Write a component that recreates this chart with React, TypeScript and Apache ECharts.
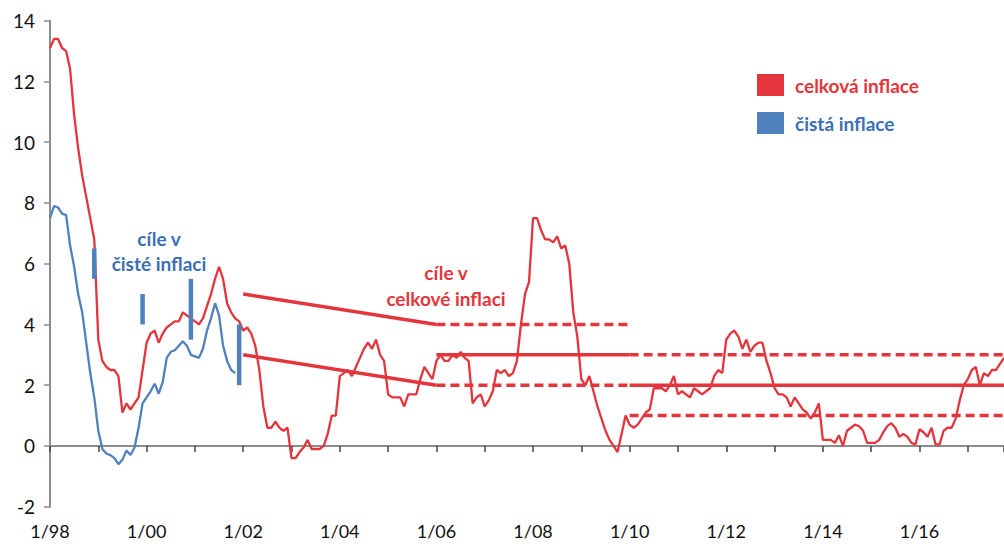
import React, { useEffect, useRef } from "react";
import * as echarts from "echarts";

// Monthly y/y inflation, 1/1998 onwards
const startYear = 1998;
const headline = [
  13.1, 13.4, 13.4, 13.1, 13.0, 12.4, 10.9, 9.8, 8.9, 8.2, 7.5, 6.8,
  3.5, 2.8, 2.6, 2.5, 2.5, 2.3, 1.1, 1.4, 1.2, 1.4, 1.6, 2.5,
  3.4, 3.7, 3.8, 3.4, 3.7, 3.9, 4.0, 4.1, 4.1, 4.4, 4.3, 4.2,
  4.1, 4.0, 4.2, 4.6, 5.0, 5.5, 5.9, 5.5, 4.7, 4.4, 4.2, 4.1,
  3.8, 3.9, 3.7, 3.3, 2.5, 1.3, 0.6, 0.6, 0.8, 0.6, 0.5, 0.6,
  -0.4, -0.4, -0.2, -0.05, 0.2, -0.1, -0.1, -0.1, 0.0, 0.4, 1.0, 1.0,
  2.3, 2.4, 2.5, 2.3, 2.6, 2.9, 3.2, 3.4, 3.2, 3.5, 3.0, 2.8,
  1.7, 1.6, 1.6, 1.6, 1.3, 1.7, 1.7, 1.7, 2.2, 2.6, 2.4, 2.2,
  2.8, 3.0, 2.8, 2.8, 3.0, 2.9, 3.1, 2.9, 2.8, 1.4, 1.6, 1.7,
  1.3, 1.5, 1.8, 2.5, 2.4, 2.5, 2.3, 2.4, 2.8, 4.0, 5.0, 5.4,
  7.5, 7.5, 7.1, 6.8, 6.8, 6.7, 6.9, 6.5, 6.6, 6.0, 4.4, 3.6,
  2.2, 2.0, 2.3, 1.8, 1.3, 0.9, 0.5, 0.2, 0.0, -0.2, 0.4, 1.0,
  0.7, 0.6, 0.7, 0.9, 1.1, 1.2, 1.9, 1.9, 1.9, 1.8, 2.0, 2.3,
  1.7, 1.8, 1.7, 1.6, 1.9, 1.8, 1.7, 1.8, 1.9, 2.3, 2.5, 2.4,
  3.5, 3.7, 3.8, 3.6, 3.2, 3.5, 3.1, 3.3, 3.4, 3.4, 2.8, 2.4,
  1.9, 1.7, 1.7, 1.6, 1.3, 1.6, 1.4, 1.2, 1.1, 0.9, 1.1, 1.4,
  0.2, 0.2, 0.2, 0.1, 0.35, 0.0, 0.5, 0.6, 0.7, 0.65, 0.5, 0.1,
  0.1, 0.1, 0.2, 0.45, 0.65, 0.75, 0.6, 0.3, 0.4, 0.3, 0.1, 0.05,
  0.55, 0.45, 0.3, 0.6, 0.05, 0.05, 0.5, 0.6, 0.6, 0.9, 1.5, 2.0,
  2.2, 2.5, 2.6, 2.0, 2.4, 2.3, 2.5, 2.5, 2.7, 2.9,
];
const netInflation = [
  7.5, 7.9, 7.85, 7.65, 7.6, 6.6, 5.9, 5.0, 4.4, 3.4, 2.4, 1.6,
  0.5, -0.1, -0.25, -0.3, -0.4, -0.6, -0.45, -0.15, -0.3, -0.05, 0.6, 1.4,
  1.6, 1.8, 2.05, 1.72, 2.1, 2.9, 3.1, 3.15, 3.3, 3.45, 3.3, 3.0,
  2.95, 2.9, 3.2, 3.8, 4.2, 4.7, 4.3, 3.3, 2.8, 2.5, 2.4,
];

// Net inflation targets (end of year)
const netTargetAt = [1998 + 11 / 12, 1999 + 11 / 12, 2000 + 11 / 12, 2001 + 11 / 12];
const netTargetLow = [5.5, 4, 3.5, 2];
const netTargetHigh = [6.5, 5, 5.5, 4];

// Headline targets: [x0, y0, x1, y1, dashed]
const xEnd = 2017.75;
const headlineTargets: [number, number, number, number, boolean][] = [
  [2002, 5, 2006, 4, false],
  [2002, 3, 2006, 2, false],
  [2006, 4, 2010, 4, true],
  [2006, 3, 2010, 3, false],
  [2006, 2, 2010, 2, true],
  [2010, 3, xEnd, 3, true],
  [2010, 2, xEnd, 2, false],
  [2010, 1, xEnd, 1, true],
];

const tickYears = [1998, 2000, 2002, 2004, 2006, 2008, 2010, 2012, 2014, 2016];
const tickLabels = ["1/98", "1/00", "1/02", "1/04", "1/06", "1/08", "1/10", "1/12", "1/14", "1/16"];

const RED = "#E3353B";
const BLUE = "#4F81BD";
const BLUE_TEXT = "#3A70B3";
const AXIS = "#8c8c8c";
const FONT = "Lato";

export default function App() {
  const ref = useRef<HTMLDivElement>(null);
  useEffect(() => {
    if (!ref.current) return;
    const chart = echarts.init(ref.current, null, { renderer: "svg" });
    const toXY = (arr: number[]) => arr.map((v, i) => [startYear + i / 12, v]);

    const series: any[] = [
      {
        name: "celková inflace",
        type: "line",
        data: toXY(headline),
        showSymbol: false,
        symbol: "none",
        color: RED,
        lineStyle: { color: RED, width: 2.3 },
        z: 3,
      },
      {
        name: "čistá inflace",
        type: "line",
        data: toXY(netInflation),
        showSymbol: false,
        symbol: "none",
        color: BLUE,
        lineStyle: { color: BLUE, width: 2.3 },
        z: 3,
      },
    ];
    headlineTargets.forEach((s, i) => {
      series.push({
        name: "target" + i,
        type: "line",
        data: [
          [s[0], s[1]],
          [s[2], s[3]],
        ],
        symbol: "none",
        color: RED,
        lineStyle: { color: RED, width: 3.5, type: s[4] ? [9, 5] : "solid" },
        z: 4,
      });
    });
    netTargetAt.forEach((x, i) => {
      series.push({
        name: "netTarget" + i,
        type: "line",
        data: [
          [x, netTargetLow[i]],
          [x, netTargetHigh[i]],
        ],
        symbol: "none",
        color: BLUE,
        lineStyle: { color: BLUE, width: 4.5, cap: "butt" },
        z: 5,
      });
    });

    const option: any = {
      animation: false,
      backgroundColor: "#ffffff",
      grid: { left: 50, right: 0, top: 20.7, bottom: 37.3, containLabel: false },
      legend: {
        orient: "vertical",
        left: 752,
        top: 69,
        itemWidth: 27,
        itemHeight: 22,
        itemGap: 16,
        icon: "rect",
        selectedMode: false,
        textStyle: { fontSize: 19, fontWeight: "bold", fontFamily: FONT, padding: [0, 0, 0, 6] },
        data: [
          { name: "celková inflace", textStyle: { color: RED } },
          { name: "čistá inflace", textStyle: { color: BLUE_TEXT } },
        ],
      },
      xAxis: [
        {
          type: "value",
          min: 1998,
          max: xEnd,
          interval: 1,
          position: "bottom",
          axisLine: { show: false, onZero: false },
          axisTick: { show: false },
          splitLine: { show: false },
          axisLabel: {
            margin: 14,
            fontSize: 18,
            lineHeight: 20,
            fontFamily: FONT,
            color: "#111",
            showMaxLabel: false,
            formatter: (v: number) => {
              const k = tickYears.indexOf(Math.round(v * 1000) / 1000);
              return k >= 0 ? tickLabels[k] : "";
            },
          },
        },
        {
          type: "value",
          min: 1998,
          max: xEnd,
          interval: 1,
          position: "bottom",
          axisLine: { show: true, onZero: true, lineStyle: { color: AXIS, width: 2 } },
          axisTick: { show: true, length: 6, lineStyle: { color: "#444", width: 1.5 } },
          splitLine: { show: false },
          axisLabel: { show: false },
        },
      ],
      yAxis: {
        type: "value",
        min: -2,
        max: 14,
        interval: 2,
        axisLine: { show: true, onZero: false, lineStyle: { color: AXIS, width: 2 } },
        axisTick: { show: true, length: 6, lineStyle: { color: AXIS, width: 1.5 } },
        splitLine: { show: false },
        axisLabel: { margin: 15, fontSize: 19, fontFamily: FONT, color: "#111" },
      },
      graphic: [
        {
          type: "text",
          x: 159,
          y: 251,
          style: {
            text: "cíle v\nčisté inflaci",
            fill: BLUE_TEXT,
            font: `bold 19px ${FONT}`,
            align: "center",
            verticalAlign: "middle",
            lineHeight: 25,
          },
        },
        {
          type: "text",
          x: 446,
          y: 285,
          style: {
            text: "cíle v\ncelkové inflaci",
            fill: RED,
            font: `bold 19px ${FONT}`,
            align: "center",
            verticalAlign: "middle",
            lineHeight: 26,
          },
        },
      ],
      series,
    };
    chart.setOption(option);
    return () => chart.dispose();
  }, []);
  return (
    <div
      ref={ref}
      style={{ position: "fixed", left: 0, top: 0, width: 1004, height: 544, background: "#fff" }}
    />
  );
}
